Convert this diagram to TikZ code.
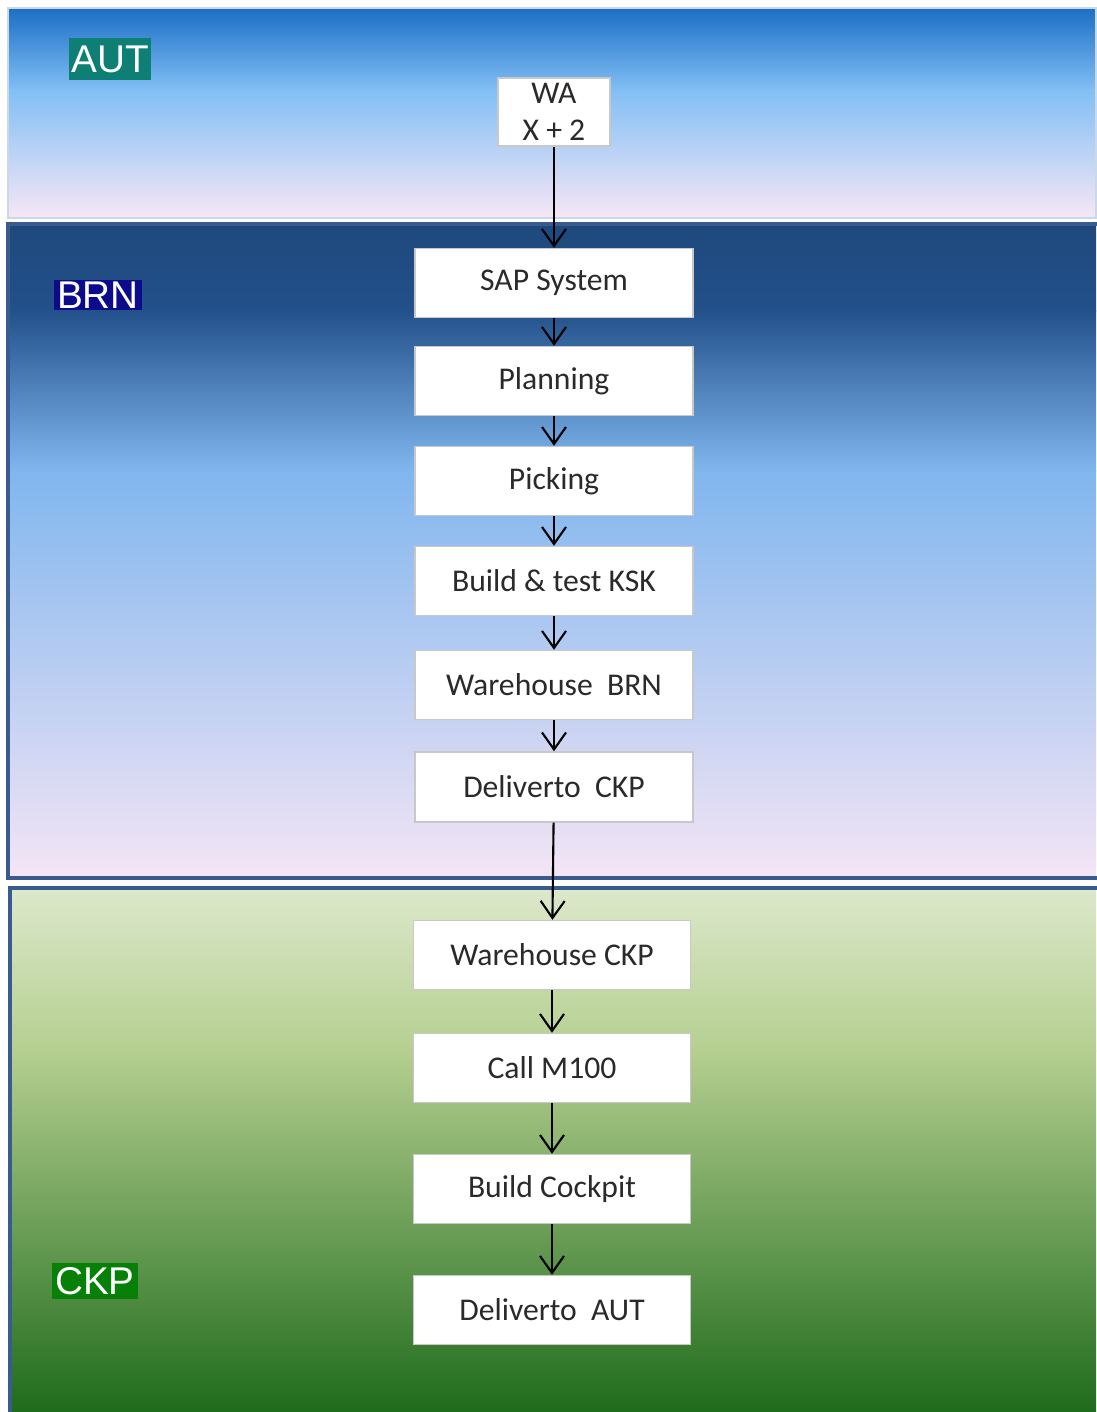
\documentclass[tikz,border=0pt]{standalone}
\usepackage{fontspec}
\setmainfont{Carlito}
\newfontfamily\labelfont{Liberation Sans}
\usetikzlibrary{positioning,arrows.meta}

\definecolor{autdark}{HTML}{1B6FC5}
\definecolor{autlight}{HTML}{82BFF5}
\definecolor{autpink}{HTML}{F7E7F5}
\definecolor{autline}{HTML}{C9D9E8}
\definecolor{brndark}{HTML}{1F497D}
\definecolor{brnmid}{HTML}{22508A}
\definecolor{brnlight}{HTML}{80B6EE}
\definecolor{brnpink}{HTML}{F4E5F5}
\definecolor{ckplight}{HTML}{DCE8CB}
\definecolor{ckpmid}{HTML}{B5CF90}
\definecolor{ckpdark}{HTML}{1F6B1C}
\definecolor{bandline}{HTML}{3A5B8E}
\definecolor{boxline}{HTML}{C8C8C8}
\definecolor{boxtext}{HTML}{2A2A2A}
\definecolor{autbg}{HTML}{0E7F74}
\definecolor{brnbg}{HTML}{0B0B8C}
\definecolor{ckpbg}{HTML}{068006}

\begin{document}
\begin{tikzpicture}
[x=0.01cm,y=-0.01cm,>={Straight Barb[length=1.7mm,width=2.4mm]},
stepbox/.style={draw=boxline,fill=white,minimum width=2.78cm,minimum height=0.69cm,inner sep=1pt,font=\fontsize{9}{11}\selectfont,text=boxtext},
tag/.style={text=white,inner xsep=0.8pt,inner ysep=2pt,font=\labelfont\fontsize{11}{13}\selectfont},]

\useasboundingbox (0,0) rectangle (1096,1412);

%Column of boxes
\def\xa{554}
\def\xb{552}

%Band AUT
\shade (8,8) rectangle (1096,91) [top color=autdark,bottom color=autlight];
\shade (8,90) rectangle (1096,218) [top color=autlight,bottom color=autpink];
\draw[autline,line width=0.8pt] (8,8) rectangle (1096,218);

%Band BRN
\shade (8,224) rectangle (1096,311) [top color=brndark,bottom color=brnmid];
\shade (8,310) rectangle (1096,471) [top color=brnmid,bottom color=brnlight];
\shade (8,470) rectangle (1096,878) [top color=brnlight,bottom color=brnpink];
\draw[bandline,line width=1.3pt] (1100,224) -- (8,224) -- (8,878) -- (1100,878);

%Band CKP
\shade (10,888) rectangle (1096,1051) [top color=ckplight,bottom color=ckpmid];
\shade (10,1050) rectangle (1096,1412) [top color=ckpmid,bottom color=ckpdark];
\draw[bandline,line width=1.3pt] (1100,888) -- (10,888) -- (10,1416);

%Band names
\node[tag,fill=autbg] (aut) at (110,59) {AUT};
\node[tag,fill=brnbg,inner ysep=0.5pt] (brn) at (98,295) {BRN};
\node[tag,fill=ckpbg,inner ysep=1.2pt] (ckp) at (95,1281) {CKP};

%Marking boxes
\node[stepbox,minimum width=1.12cm,minimum height=0.68cm,align=center,font=\fontsize{9}{10.5}\selectfont] (wa) at (\xa,112) {WA\\X + 2};
\node[stepbox] (sap) at (\xa,283) {SAP System};
\node[stepbox] (plan) at (\xa,381) {Planning};
\node[stepbox] (pick) at (\xa,481) {Picking};
\node[stepbox] (ksk) at (\xa,581) {Build \& test KSK};
\node[stepbox] (whbrn) at (\xa,685) {Warehouse\ \ BRN};
\node[stepbox,minimum height=0.70cm] (delckp) at (\xa,787) {Deliverto\ \ CKP};
\node[stepbox,minimum width=2.77cm] (whckp) at (\xb,955) {Warehouse CKP};
\node[stepbox,minimum width=2.77cm] (call) at (\xb,1068) {Call M100};
\node[stepbox,minimum width=2.77cm] (cock) at (\xb,1189) {Build Cockpit};
\node[stepbox,minimum width=2.77cm] (delaut) at (\xb,1310) {Deliverto\ \ AUT};

%Joining the boxes
\draw[->,line width=0.6pt] (wa) -- (sap);
\draw[->,line width=0.6pt] (sap) -- (plan);
\draw[->,line width=0.6pt] (plan) -- (pick);
\draw[->,line width=0.6pt] (pick) -- (ksk);
\draw[->,line width=0.6pt] (ksk) -- (whbrn);
\draw[->,line width=0.6pt] (whbrn) -- (delckp);
\draw[->,line width=0.6pt] (delckp) -- (whckp);
\draw[->,line width=0.6pt] (whckp) -- (call);
\draw[->,line width=0.6pt] (call) -- (cock);
\draw[->,line width=0.6pt] (cock) -- (delaut);

\end{tikzpicture}
\end{document}
